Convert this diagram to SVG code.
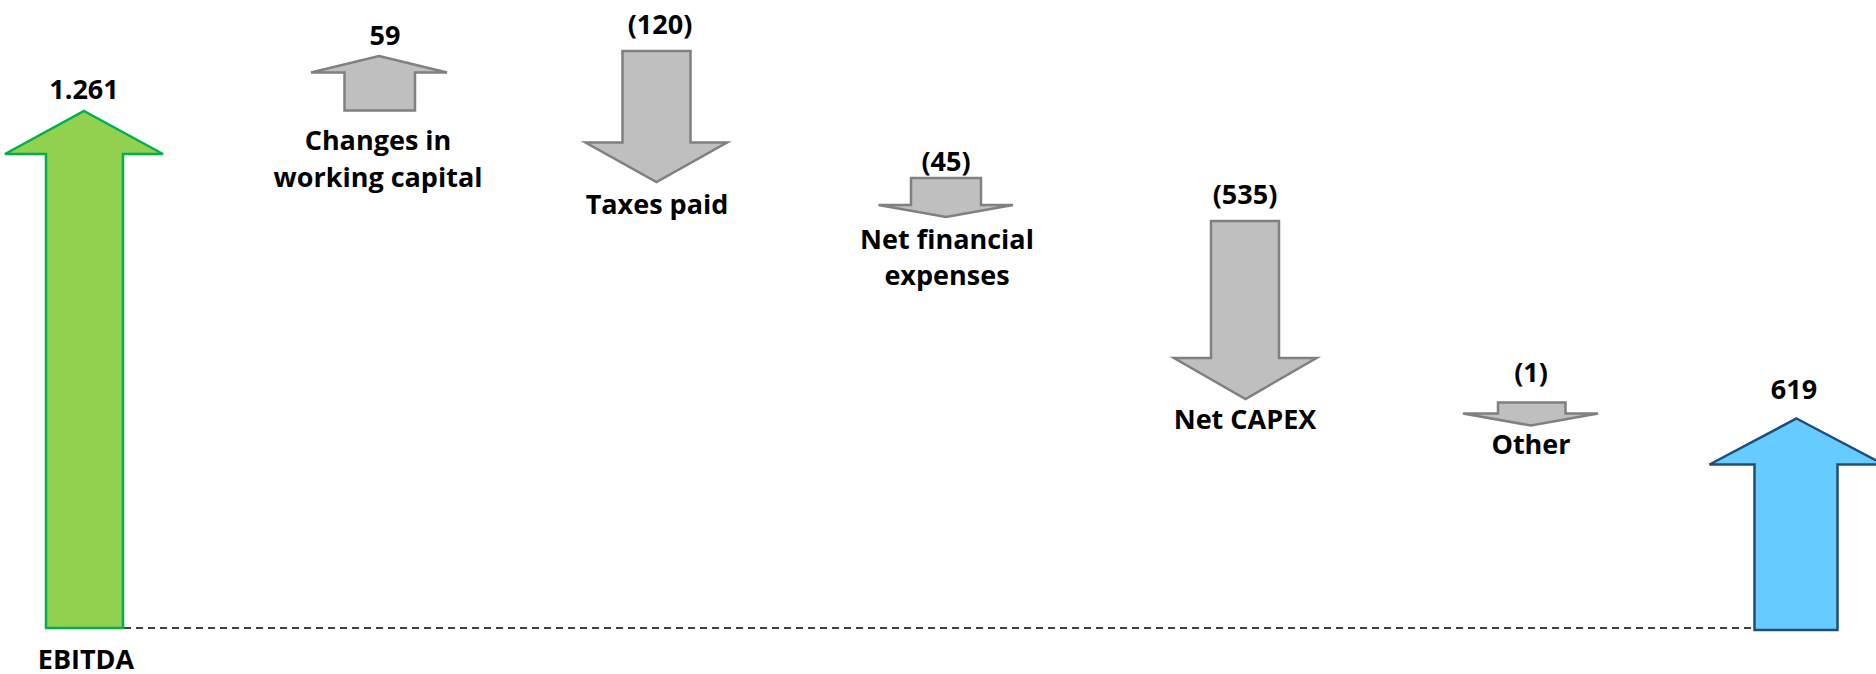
<svg xmlns="http://www.w3.org/2000/svg" width="1876" height="674" viewBox="0 0 1876 674">
<style>
  text { font-family: "Open Sans", "Liberation Sans", sans-serif; font-weight: bold; font-size: 27px; fill: #000; text-anchor: middle; }
  .gray { fill: #BFBFBF; stroke: #808080; stroke-width: 2.5; stroke-linejoin: miter; }
  .green { fill: #92D050; stroke: #00B050; stroke-width: 2.5; }
  .blue { fill: #66CCFF; stroke: #1F4E79; stroke-width: 2.5; }
  .dash { stroke: #000; stroke-width: 1.5; stroke-dasharray: 7 5; fill: none; }
</style>
<rect width="1876" height="674" fill="#fff"/>
<g id="connectors">
  <line class="dash" x1="124" y1="628" x2="1753" y2="628"/>
</g>
<g id="ebitda">
  <polygon class="green" points="84,111 163,154 123,154 123,628 46,628 46,154 5,154"/>
  <text x="84" y="99">1.261</text>
  <text x="86" y="669">EBITDA</text>
</g>
<g id="working-capital">
  <polygon class="gray" points="379,56 447,72.5 415,72.5 415,110.5 344.5,110.5 344.5,72.5 311,72.5"/>
  <text x="385" y="45">59</text>
  <text x="378" y="150">Changes in</text>
  <text x="378" y="187">working capital</text>
</g>
<g id="taxes-paid">
  <polygon class="gray" points="622.5,51 690.5,51 690.5,142.5 727,142.5 656.5,182 585.5,142.5 622.5,142.5"/>
  <text x="660" y="33.5">(120)</text>
  <text x="657" y="214">Taxes paid</text>
</g>
<g id="net-financial">
  <polygon class="gray" points="911,178 981,178 981,205 1013,205 946,217 878.5,205 911,205"/>
  <text x="946" y="171">(45)</text>
  <text x="947" y="248.5">Net financial</text>
  <text x="947" y="285">expenses</text>
</g>
<g id="net-capex">
  <polygon class="gray" points="1211,221 1279,221 1279,358 1316.5,358 1245.5,399 1174,358 1211,358"/>
  <text x="1245" y="203.5">(535)</text>
  <text x="1245" y="428.5">Net CAPEX</text>
</g>
<g id="other">
  <polygon class="gray" points="1498,402.5 1565.5,402.5 1565.5,413.5 1598,413.5 1531,425.5 1463,413.5 1498,413.5"/>
  <text x="1531" y="381.5">(1)</text>
  <text x="1531" y="453.5">Other</text>
</g>
<g id="result">
  <polygon class="blue" points="1796.5,418.5 1884,464.5 1837.5,464.5 1837.5,630 1754.5,630 1754.5,464.5 1709.5,464.5"/>
  <text x="1794" y="398.5">619</text>
</g>
</svg>
